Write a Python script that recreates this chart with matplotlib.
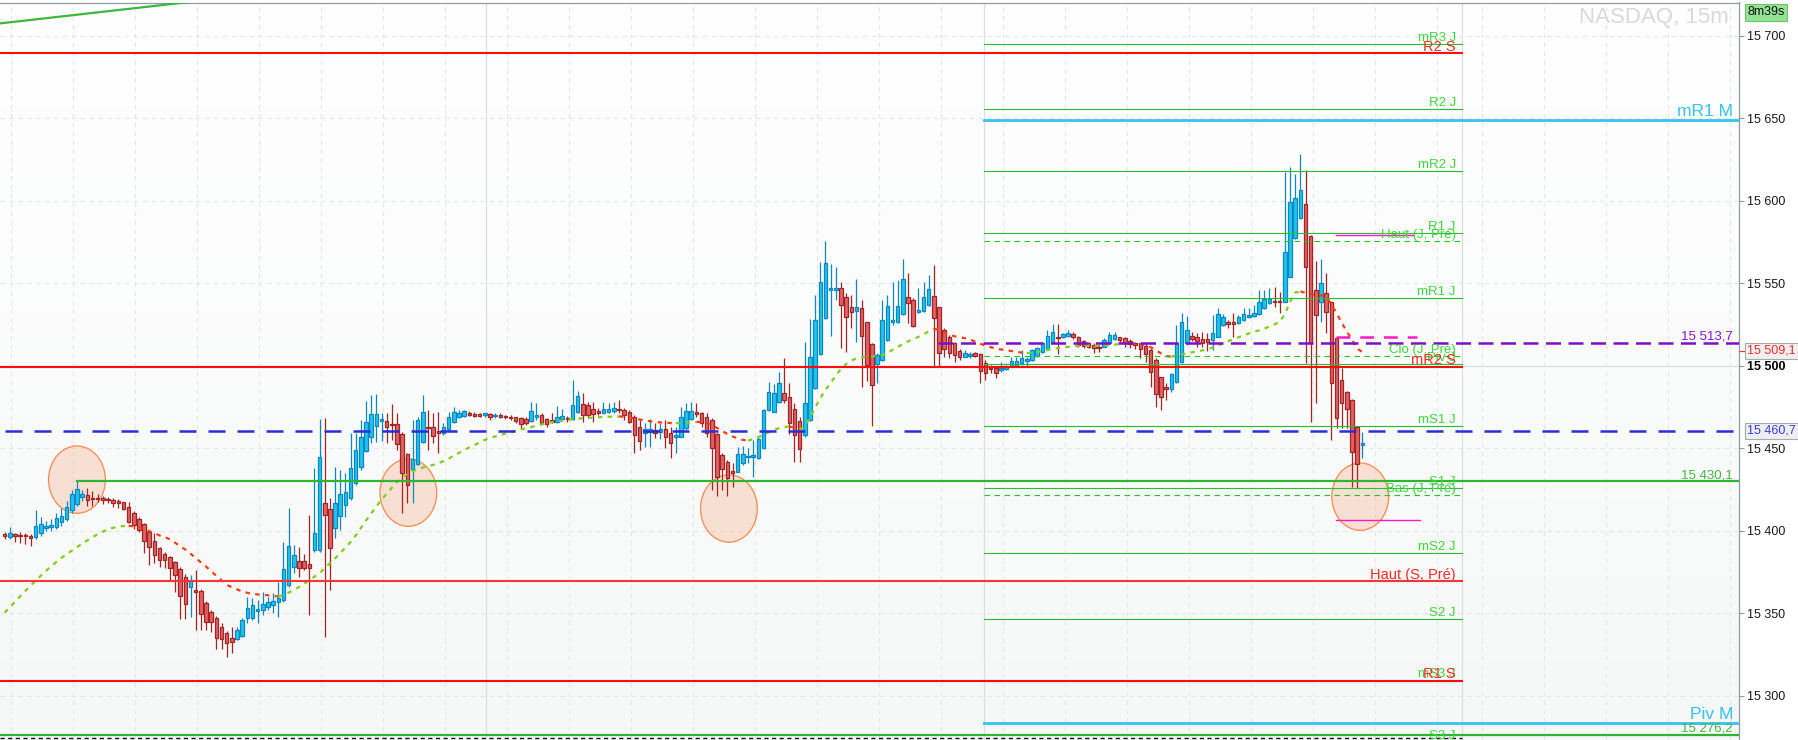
import numpy as np
import matplotlib.pyplot as plt
import matplotlib.transforms as mtrans
from matplotlib.patches import Ellipse
from matplotlib.ticker import FuncFormatter, FixedLocator

plt.rcParams['font.family'] = ['Liberation Sans', 'DejaVu Sans']

# =============================================================================
# DONNEES (bougies 15 min)
# =============================================================================

opens = [
    15398.0, 15396.6, 15398.0, 15397.6, 15397.6, 15397.2, 15396.2, 15399.0, 15401.6, 15402.2,
    15402.7, 15405.5, 15407.1, 15412.8, 15416.2, 15420.8, 15421.6, 15420.2, 15420.0, 15420.0,
    15419.6, 15418.8, 15418.2, 15417.4, 15414.8, 15410.7, 15407.1, 15404.0, 15399.2, 15394.2,
    15389.5, 15386.1, 15384.0, 15381.0, 15376.8, 15372.3, 15366.2, 15364.1, 15363.5, 15356.2,
    15350.7, 15347.1, 15341.6, 15338.0, 15335.4, 15334.4, 15336.6, 15347.1, 15347.1, 15351.5,
    15352.1, 15353.8, 15355.2, 15356.8, 15358.2, 15367.3, 15378.4, 15382.0, 15382.0, 15379.8,
    15388.5, 15388.5, 15416.8, 15413.2, 15401.6, 15409.3, 15415.8, 15419.8, 15428.9, 15438.6,
    15448.5, 15456.8, 15463.7, 15466.9, 15466.9, 15465.0, 15464.7, 15458.6, 15446.5, 15437.4,
    15440.6, 15453.8, 15463.3, 15463.3, 15460.6, 15459.2, 15461.6, 15466.3, 15468.9, 15469.9,
    15471.3, 15471.1, 15470.7, 15470.1, 15470.7, 15469.5, 15470.1, 15469.7, 15469.3, 15468.9,
    15468.3, 15468.1, 15466.5, 15469.3, 15470.1, 15468.0, 15467.5, 15466.3, 15467.7, 15468.5,
    15467.7, 15471.9, 15477.0, 15476.6, 15473.7, 15472.7, 15471.7, 15471.9, 15472.9, 15473.9,
    15473.5, 15471.9, 15469.3, 15463.2, 15459.2, 15460.0, 15461.2, 15460.2, 15461.6, 15459.6,
    15456.8, 15457.2, 15462.2, 15467.7, 15472.1, 15471.3, 15468.9, 15467.3, 15458.6, 15446.1,
    15441.6, 15436.6, 15435.9, 15441.0, 15444.6, 15444.6, 15444.0, 15450.1, 15473.3, 15472.3,
    15478.4, 15483.4, 15481.4, 15473.7, 15466.7, 15458.2, 15467.3, 15486.5, 15507.1, 15528.9,
    15546.1, 15546.1, 15547.1, 15541.6, 15535.5, 15533.5, 15534.9, 15526.4, 15513.1, 15501.0,
    15503.6, 15515.8, 15526.9, 15526.5, 15531.5, 15542.0, 15540.0, 15532.5, 15533.3, 15537.0,
    15542.4, 15535.5, 15521.8, 15517.8, 15513.7, 15509.1, 15505.7, 15506.1, 15507.7, 15507.3,
    15501.6, 15498.6, 15498.6, 15497.4, 15498.0, 15499.6, 15500.0, 15501.6, 15503.2, 15503.6,
    15506.3, 15508.7, 15510.1, 15514.3, 15517.8, 15517.8, 15518.2, 15519.4, 15517.8, 15515.3,
    15514.1, 15512.7, 15511.7, 15511.7, 15514.1, 15516.2, 15517.4, 15516.8, 15515.3, 15514.1,
    15513.7, 15512.1, 15509.7, 15503.6, 15493.1, 15487.1, 15486.3, 15490.5, 15502.2, 15513.7,
    15518.2, 15517.4, 15516.2, 15516.2, 15515.8, 15517.8, 15524.8, 15526.9, 15526.5, 15525.8,
    15527.9, 15529.5, 15530.3, 15531.5, 15534.9, 15538.0, 15539.6, 15539.2, 15539.0, 15554.1,
    15577.4, 15589.5, 15598.0, 15579.0, 15546.1, 15539.0, 15544.0, 15538.6, 15516.8, 15491.5,
    15484.4, 15479.4, 15463.2, 15452.1,
]

highs = [
    15399.5, 15402.2, 15399.0, 15399.6, 15399.0, 15398.0, 15412.8, 15408.7, 15406.0, 15407.0,
    15411.0, 15414.0, 15418.0, 15425.0, 15430.1, 15425.0, 15426.0, 15424.0, 15422.4, 15421.0,
    15420.5, 15420.2, 15419.2, 15417.8, 15417.4, 15412.0, 15408.7, 15405.0, 15400.0, 15398.6,
    15390.5, 15387.0, 15385.0, 15382.0, 15378.0, 15374.0, 15373.4, 15376.4, 15365.0, 15357.5,
    15352.0, 15348.5, 15344.0, 15339.5, 15342.0, 15342.0, 15347.0, 15360.2, 15359.2, 15358.2,
    15363.3, 15360.2, 15362.2, 15369.3, 15393.6, 15413.8, 15391.5, 15390.5, 15386.0, 15409.7,
    15438.0, 15467.9, 15468.7, 15419.8, 15439.0, 15437.0, 15435.0, 15459.2, 15459.2, 15467.3,
    15479.0, 15482.4, 15483.0, 15471.7, 15471.7, 15476.8, 15471.7, 15460.0, 15447.5, 15467.3,
    15469.3, 15482.4, 15473.4, 15471.3, 15471.9, 15465.3, 15471.9, 15475.3, 15473.3, 15473.3,
    15472.5, 15472.1, 15471.5, 15471.7, 15471.3, 15471.3, 15471.3, 15470.5, 15470.0, 15469.3,
    15468.9, 15469.3, 15478.4, 15477.4, 15471.3, 15468.5, 15471.3, 15475.7, 15473.9, 15469.7,
    15491.5, 15484.6, 15483.4, 15478.4, 15478.4, 15474.3, 15478.4, 15477.4, 15478.4, 15479.4,
    15474.3, 15473.3, 15470.3, 15467.3, 15465.7, 15468.1, 15465.7, 15465.3, 15467.3, 15463.2,
    15463.2, 15475.3, 15477.8, 15478.2, 15477.4, 15472.3, 15471.3, 15468.3, 15459.2, 15447.1,
    15443.0, 15441.0, 15451.1, 15451.5, 15450.1, 15455.1, 15456.7, 15473.7, 15490.5, 15488.9,
    15496.6, 15505.0, 15489.9, 15477.4, 15469.3, 15514.7, 15528.3, 15543.0, 15563.2, 15575.8,
    15561.6, 15560.2, 15551.1, 15544.0, 15543.0, 15552.7, 15540.0, 15526.9, 15513.7, 15507.7,
    15540.0, 15543.0, 15551.1, 15552.1, 15564.8, 15556.6, 15541.0, 15547.1, 15551.1, 15555.1,
    15561.2, 15536.0, 15522.8, 15518.8, 15514.7, 15510.1, 15509.5, 15508.5, 15508.3, 15507.7,
    15503.6, 15500.6, 15499.6, 15502.6, 15500.6, 15505.6, 15505.2, 15509.7, 15505.6, 15510.1,
    15511.7, 15514.1, 15521.8, 15525.4, 15525.4, 15520.2, 15521.8, 15520.8, 15518.2, 15515.7,
    15514.7, 15513.7, 15512.7, 15516.8, 15520.8, 15520.8, 15517.8, 15517.4, 15516.2, 15514.7,
    15514.1, 15513.7, 15510.7, 15504.6, 15493.5, 15489.5, 15496.0, 15524.8, 15531.9, 15530.5,
    15520.8, 15519.8, 15520.8, 15520.2, 15530.9, 15534.9, 15531.5, 15527.9, 15531.9, 15530.9,
    15534.9, 15535.0, 15537.0, 15546.1, 15546.1, 15547.1, 15548.1, 15545.1, 15617.8, 15620.8,
    15616.2, 15628.5, 15618.8, 15579.4, 15563.8, 15564.8, 15556.2, 15539.0, 15517.2, 15498.6,
    15485.0, 15479.8, 15463.6, 15460.2,
]

lows = [
    15395.0, 15395.0, 15393.6, 15392.5, 15392.0, 15391.0, 15395.0, 15397.0, 15400.0, 15400.0,
    15401.0, 15403.0, 15406.0, 15411.0, 15415.0, 15418.0, 15415.0, 15415.0, 15417.8, 15416.2,
    15416.8, 15414.8, 15413.8, 15412.8, 15404.7, 15401.0, 15399.6, 15386.5, 15379.4, 15380.4,
    15378.4, 15377.4, 15369.9, 15362.7, 15346.5, 15346.5, 15348.1, 15340.0, 15340.0, 15340.0,
    15339.0, 15328.3, 15328.3, 15323.5, 15326.3, 15334.0, 15336.0, 15344.0, 15346.0, 15344.0,
    15349.0, 15352.1, 15350.1, 15348.1, 15357.2, 15366.3, 15374.4, 15372.3, 15376.4, 15349.1,
    15387.5, 15387.5, 15336.0, 15364.3, 15395.6, 15400.6, 15408.7, 15418.8, 15427.9, 15437.0,
    15448.1, 15453.6, 15454.2, 15454.6, 15453.6, 15455.2, 15449.1, 15411.1, 15416.8, 15416.8,
    15439.9, 15453.2, 15449.1, 15453.2, 15447.1, 15458.2, 15460.5, 15465.3, 15468.3, 15469.3,
    15469.5, 15468.9, 15469.3, 15469.3, 15467.3, 15468.3, 15468.3, 15468.1, 15467.3, 15465.3,
    15461.6, 15464.2, 15466.1, 15467.3, 15465.3, 15463.2, 15465.7, 15465.7, 15467.3, 15466.3,
    15467.3, 15471.3, 15466.3, 15468.3, 15466.3, 15470.3, 15471.3, 15471.3, 15471.3, 15471.3,
    15467.3, 15465.3, 15447.5, 15449.1, 15451.1, 15451.1, 15456.1, 15455.5, 15450.1, 15444.4,
    15447.1, 15456.8, 15461.2, 15467.3, 15469.3, 15463.2, 15457.2, 15424.8, 15421.2, 15424.8,
    15421.2, 15426.8, 15435.7, 15440.0, 15441.0, 15432.9, 15443.6, 15449.5, 15472.9, 15471.9,
    15477.4, 15477.4, 15458.8, 15442.0, 15442.0, 15457.2, 15466.9, 15485.9, 15506.7, 15528.5,
    15518.2, 15540.0, 15510.7, 15508.7, 15522.8, 15514.7, 15487.5, 15490.9, 15463.6, 15489.5,
    15503.2, 15515.4, 15524.8, 15526.3, 15530.9, 15525.8, 15523.8, 15531.9, 15532.7, 15536.4,
    15499.6, 15499.6, 15505.7, 15504.6, 15502.6, 15503.6, 15505.7, 15504.6, 15505.2, 15489.9,
    15491.5, 15495.6, 15492.5, 15496.6, 15497.6, 15499.2, 15499.6, 15500.6, 15499.2, 15503.0,
    15505.7, 15507.7, 15509.7, 15513.7, 15507.3, 15517.2, 15517.4, 15516.2, 15511.7, 15510.7,
    15510.7, 15507.7, 15508.7, 15511.3, 15513.7, 15515.7, 15514.7, 15511.7, 15510.7, 15510.1,
    15504.6, 15502.6, 15487.1, 15475.3, 15473.3, 15479.4, 15484.4, 15489.9, 15501.6, 15512.7,
    15515.3, 15511.7, 15511.7, 15509.3, 15509.7, 15517.4, 15524.2, 15522.8, 15517.8, 15525.4,
    15527.3, 15528.9, 15529.9, 15530.9, 15534.4, 15537.6, 15535.9, 15531.9, 15538.6, 15553.7,
    15577.0, 15589.1, 15501.6, 15466.3, 15477.4, 15526.9, 15519.8, 15455.1, 15462.2, 15462.2,
    15462.2, 15426.9, 15426.3, 15444.1,
]

closes = [
    15397.0, 15398.6, 15397.0, 15396.8, 15396.8, 15395.6, 15403.0, 15404.0, 15402.9, 15403.5,
    15407.9, 15409.1, 15414.6, 15422.2, 15425.3, 15422.2, 15418.8, 15419.2, 15419.6, 15418.6,
    15418.8, 15416.8, 15417.2, 15413.2, 15405.7, 15403.7, 15400.6, 15394.2, 15390.5, 15385.5,
    15382.5, 15382.5, 15377.4, 15373.4, 15360.6, 15355.6, 15370.3, 15362.9, 15349.5, 15345.1,
    15344.7, 15335.4, 15334.4, 15331.9, 15333.0, 15340.0, 15346.1, 15353.2, 15355.0, 15352.7,
    15355.6, 15356.8, 15357.6, 15359.2, 15376.8, 15390.9, 15385.3, 15377.4, 15377.4, 15377.4,
    15398.6, 15445.1, 15409.7, 15389.5, 15416.8, 15422.2, 15423.5, 15438.0, 15449.1, 15457.2,
    15465.9, 15470.7, 15470.7, 15467.9, 15463.3, 15464.3, 15452.8, 15435.0, 15427.9, 15443.5,
    15467.1, 15471.9, 15462.2, 15457.6, 15459.2, 15463.3, 15469.3, 15471.9, 15471.3, 15472.7,
    15470.3, 15469.7, 15469.7, 15471.3, 15468.9, 15470.5, 15468.9, 15468.9, 15468.3, 15466.9,
    15464.8, 15465.7, 15472.5, 15470.5, 15465.7, 15464.6, 15466.3, 15469.3, 15469.7, 15467.7,
    15476.2, 15481.6, 15470.3, 15470.3, 15470.9, 15471.7, 15473.7, 15473.9, 15474.3, 15473.1,
    15470.1, 15466.3, 15458.0, 15454.7, 15462.0, 15461.6, 15459.6, 15461.8, 15457.2, 15453.5,
    15458.2, 15468.9, 15472.5, 15472.9, 15470.7, 15465.7, 15459.2, 15450.1, 15432.9, 15437.4,
    15431.9, 15435.4, 15446.7, 15446.7, 15445.6, 15445.8, 15455.9, 15473.3, 15484.0, 15483.4,
    15489.5, 15479.4, 15465.2, 15458.2, 15449.9, 15477.4, 15505.2, 15527.9, 15550.9, 15562.2,
    15547.5, 15547.1, 15536.8, 15529.5, 15532.5, 15535.5, 15518.2, 15500.6, 15488.3, 15506.7,
    15527.9, 15536.4, 15527.9, 15536.4, 15552.5, 15538.0, 15524.4, 15533.9, 15541.6, 15546.5,
    15528.9, 15507.7, 15510.1, 15507.7, 15506.7, 15505.7, 15507.7, 15507.3, 15506.3, 15497.0,
    15495.6, 15498.0, 15496.0, 15498.6, 15499.2, 15503.0, 15503.0, 15504.6, 15504.2, 15509.7,
    15510.9, 15513.7, 15518.4, 15520.8, 15517.2, 15519.4, 15519.8, 15517.4, 15512.7, 15512.1,
    15511.7, 15510.7, 15510.7, 15515.7, 15518.8, 15518.8, 15515.8, 15514.1, 15513.3, 15512.7,
    15510.1, 15507.3, 15496.6, 15482.8, 15481.4, 15485.9, 15495.1, 15513.7, 15526.5, 15521.8,
    15516.2, 15515.3, 15514.1, 15514.4, 15519.8, 15531.5, 15529.5, 15525.3, 15525.3, 15529.5,
    15531.5, 15530.9, 15532.3, 15539.0, 15540.6, 15540.4, 15539.0, 15539.0, 15569.3, 15599.6,
    15601.6, 15606.7, 15560.2, 15513.7, 15530.9, 15550.1, 15532.5, 15489.5, 15468.3, 15477.4,
    15473.7, 15448.1, 15440.6, 15453.1,
]

# moyenne mobile (vert = pente montante, rouge = descendante)
ma_vals = [
    15350.5, 15353.8, 15357.1, 15360.4, 15363.6, 15366.8, 15369.9, 15372.9, 15375.8, 15378.6,
    15381.2, 15383.7, 15385.9, 15388.1, 15390.2, 15392.3, 15394.3, 15396.2, 15398.0, 15399.6,
    15400.9, 15401.9, 15402.6, 15403.0, 15403.1, 15402.8, 15402.1, 15401.1, 15399.9, 15398.6,
    15397.3, 15396.3, 15394.9, 15392.9, 15390.7, 15388.7, 15386.2, 15383.6, 15381.0, 15378.4,
    15375.6, 15372.8, 15370.0, 15367.4, 15365.9, 15364.6, 15363.3, 15362.5, 15361.9, 15361.5,
    15361.3, 15361.0, 15360.6, 15360.3, 15361.2, 15362.6, 15364.2, 15366.0, 15368.0, 15370.1,
    15372.3, 15374.4, 15377.4, 15380.4, 15383.4, 15386.6, 15389.9, 15393.3, 15397.2, 15401.8,
    15406.4, 15410.6, 15414.8, 15419.0, 15422.6, 15426.2, 15429.6, 15432.4, 15434.4, 15436.2,
    15437.4, 15438.4, 15439.3, 15440.0, 15441.1, 15442.3, 15443.8, 15445.6, 15447.3, 15449.0,
    15450.6, 15452.1, 15453.6, 15455.2, 15456.3, 15457.3, 15458.2, 15459.1, 15459.9, 15460.8,
    15461.5, 15462.3, 15463.0, 15463.8, 15464.5, 15465.2, 15466.0, 15466.5, 15466.9, 15467.3,
    15467.7, 15468.0, 15468.3, 15468.5, 15468.7, 15468.9, 15469.1, 15469.2, 15469.3, 15469.4,
    15469.2, 15468.8, 15468.2, 15467.6, 15467.0, 15466.5, 15466.1, 15465.8, 15465.6, 15465.4,
    15465.3, 15465.4, 15465.7, 15466.0, 15466.1, 15466.0, 15465.6, 15464.2, 15462.5, 15460.6,
    15458.8, 15457.3, 15456.1, 15455.2, 15454.8, 15455.6, 15456.9, 15458.2, 15459.8, 15461.2,
    15462.3, 15463.0, 15463.3, 15462.6, 15461.5, 15463.5, 15468.6, 15474.7, 15480.6, 15485.5,
    15489.6, 15494.2, 15498.2, 15501.2, 15503.3, 15504.6, 15505.2, 15505.6, 15505.8, 15506.1,
    15506.6, 15508.0, 15509.8, 15511.6, 15513.3, 15514.9, 15516.4, 15517.6, 15519.2, 15521.0,
    15522.6, 15521.8, 15520.3, 15519.0, 15518.0, 15517.4, 15516.9, 15516.0, 15514.8, 15513.5,
    15512.3, 15511.4, 15510.6, 15510.0, 15509.5, 15509.1, 15508.6, 15508.1, 15507.8, 15508.0,
    15508.5, 15509.0, 15509.6, 15510.3, 15510.9, 15511.3, 15511.6, 15511.9, 15512.1, 15512.1,
    15512.1, 15512.1, 15512.2, 15512.4, 15512.6, 15512.9, 15513.2, 15513.5, 15513.7, 15513.5,
    15513.1, 15512.6, 15511.4, 15509.6, 15507.6, 15506.0, 15505.6, 15506.3, 15507.0, 15507.7,
    15508.3, 15508.9, 15509.4, 15510.1, 15511.2, 15512.4, 15513.7, 15515.0, 15516.2, 15517.4,
    15518.6, 15519.7, 15520.7, 15521.6, 15522.6, 15523.9, 15525.2, 15526.8, 15531.5, 15539.0,
    15544.5, 15545.2, 15544.3, 15543.6, 15543.1, 15542.8, 15542.0, 15537.5, 15532.0, 15526.3,
    15520.8, 15516.0, 15510.5, 15508.5,
]

# pivots journaliers (J)
niveaux_j = ["mR3 J", "R2 J", "mR2 J", "R1 J", "mR1 J", "Piv J",
             "mS1 J", "S1 J", "mS2 J", "S2 J", "mS3 J", "S3 J"]
valeurs_j = [15695.3, 15655.8, 15618.2, 15580.6, 15541.0, 15501.2,
             15463.6, 15425.9, 15386.7, 15346.7, 15309.3, 15272.2]

# veille (J, Pre)
niveaux_pre = ["Haut (J, Pré)", "Clo (J, Pré)", "Bas (J, Pré)"]
valeurs_pre = [15575.8, 15505.9, 15421.6]

# pivots hebdo (S)
niveaux_s = ["R2 S", "mR2 S", "Haut (S, Pré)", "R1 S"]
valeurs_s = [15689.5, 15499.4, 15369.5, 15309.3]

# pivots mensuels (M)
niveaux_m = ["mR1 M", "Piv M"]
valeurs_m = [15649.3, 15283.6]

# niveaux traces a la main
niv_violet = 15513.7
niv_bleu = 15460.7
niv_vert_haut = 15430.1
niv_vert_bas = 15276.2
niv_noir = 15274.5
magenta_vals = [15579.2, 15517.8, 15406.7]
dernier_prix = 15509.1

# zones entourees (centre bougie, prix)
cercles_x = [14.0, 78.2, 140.3, 262.6]
cercles_y = [15431.1, 15423.2, 15413.6, 15420.8]

trend_x = [-1.0, 40.0]
trend_y = [15707.6, 15722.1]

ticks_y = [15300, 15350, 15400, 15450, 15500, 15550, 15600, 15650, 15700]

# =============================================================================
# STYLE
# =============================================================================

UP_FILL, UP_EDGE = "#1ec6ef", "#0d86c2"
DN_FILL, DN_EDGE = "#e06262", "#a32424"
MA_UP, MA_DN = "#7fcf1c", "#ff3d12"
VERT_J, TXT_J = "#22c22e", "#3fd43f"
ROUGE, TXT_ROUGE = "#ff0d0d", "#ff2a2a"
CYAN_M = "#35c3f3"
GRIS_AXE = "#8d9ba6"

X_LEFT, X_RIGHT = -0.91, 335.97
X_SEP = [93.3, 189.7, 282.3]
X_J0, X_J1 = 189.7, 282.3
X_LAB_J = 281.1
X_LAB_R = 334.8


def fmt_prix(v):
    return f"{v:,.1f}".replace(",", " ").replace(".", ",")


W, H = 1798, 740
fig = plt.figure(figsize=(W / 100, H / 100), dpi=100)
ax = fig.add_axes([0, 0, 1739 / W, (H - 2.5) / H])
ax.set_xlim(X_LEFT, X_RIGHT)
ax.set_ylim(15273.3, 15720.3)

# fond degrade
grad = np.linspace(1.0, 0.0, 256).reshape(-1, 1)
fond = np.ones((256, 1, 3))
fond[:, 0, 0] = 0.965 + 0.035 * grad[:, 0]
fond[:, 0, 1] = 0.972 + 0.028 * grad[:, 0]
fond[:, 0, 2] = 0.972 + 0.028 * grad[:, 0]
ax.imshow(fond, extent=[0, 1, 0, 1], transform=ax.transAxes,
          aspect="auto", zorder=0, interpolation="bilinear")

# grille
for gx in list(np.arange(1.16, 282, 12.01)) + list(np.arange(286.2, 336, 12.0)):
    ax.axvline(gx, color="#e6e6e6", lw=0.8, dashes=(4, 4), zorder=1)
for gy in ticks_y:
    ax.axhline(gy, color="#e6e6e6", lw=0.8, dashes=(4, 4), zorder=1)
ax.axhline(15500, color="#dcdcdc", lw=0.8, zorder=1)
for sx in X_SEP:
    ax.axvline(sx, color="#dedede", lw=0.9, zorder=1)

# cercles
for cx, cy in zip(cercles_x, cercles_y):
    ax.add_patch(Ellipse((cx, cy), width=11.0, height=40.8,
                         facecolor=(0.96, 0.6, 0.4, 0.26),
                         edgecolor="#f5925c", lw=1.0, zorder=3))

# bougies
o, hi, lo, c = (np.array(a) for a in (opens, highs, lows, closes))
ma = np.array(ma_vals)
assert len(o) == len(hi) == len(lo) == len(c) == len(ma)
idx = np.arange(len(c))
up = c >= o
bas = np.minimum(o, c)
haut = np.maximum(np.abs(c - o), 0.6)

ax.vlines(idx[up], lo[up], hi[up], color=UP_EDGE, lw=0.9, zorder=4)
ax.vlines(idx[~up], lo[~up], hi[~up], color=DN_EDGE, lw=0.9, zorder=4)
ax.bar(idx[up], haut[up], bottom=bas[up], width=0.68, color=UP_FILL,
       edgecolor=UP_EDGE, linewidth=0.9, zorder=5)
ax.bar(idx[~up], haut[~up], bottom=bas[~up], width=0.68, color=DN_FILL,
       edgecolor=DN_EDGE, linewidth=0.9, zorder=5)

# moyenne mobile coloree selon la pente
pente = np.diff(ma) >= 0
debut = 0
for i in range(1, len(pente) + 1):
    if i == len(pente) or pente[i] != pente[debut]:
        sl = slice(debut, i + 1)
        ax.plot(idx[sl], ma[sl], color=MA_UP if pente[debut] else MA_DN,
                lw=1.6, dashes=(2.0, 2.4), zorder=6)
        debut = i

# ligne de tendance
ax.plot(trend_x, trend_y, color="#3cb83c", lw=1.6, zorder=7)


def label(x, y, txt, color, size, dy=2.3, ha="right"):
    ax.annotate(txt, xy=(x, y), xytext=(0, dy), textcoords="offset points",
                ha=ha, va="baseline", fontsize=size, color=color, zorder=10,
                annotation_clip=False, clip_on=True)


# niveaux J
for nom, v in zip(niveaux_j, valeurs_j):
    ax.plot([X_J0, X_J1], [v, v], color=VERT_J, lw=0.8, zorder=7)
    label(X_LAB_J, v, nom, TXT_J, 9.5)
for nom, v in zip(niveaux_pre, valeurs_pre):
    ax.plot([X_J0, X_J1], [v, v], color=VERT_J, lw=0.8, dashes=(5, 4), zorder=7)
    label(X_LAB_J, v, nom, TXT_J, 9.5)

# niveaux S
for nom, v in zip(niveaux_s, valeurs_s):
    ax.plot([X_LEFT, X_J1], [v, v], color=ROUGE if nom != "Haut (S, Pré)" else "#ff3535",
            lw=1.5, zorder=7)
    label(X_LAB_J, v, nom, TXT_ROUGE, 10.5, dy=1.9)

# niveaux M
for nom, v in zip(niveaux_m, valeurs_m):
    ax.plot([X_J0, X_RIGHT], [v, v], color=CYAN_M, lw=2.0, zorder=7)
    label(X_LAB_R, v, nom, CYAN_M, 12.5, dy=2.9)

# niveaux manuels
ax.plot([180.8, X_RIGHT], [niv_violet] * 2, color="#7d0fc4", lw=1.8,
        dashes=(6, 3), zorder=7)
label(X_LAB_R, niv_violet, fmt_prix(niv_violet), "#8a14c8", 9.5, dy=3.0)
ax.plot([0.06, X_RIGHT], [niv_bleu] * 2, color="#2c2cd8", lw=1.8,
        dashes=(6.8, 4.8), zorder=7)
ax.plot([14.0, X_RIGHT], [niv_vert_haut] * 2, color="#2fb52f", lw=1.6, zorder=7)
label(X_LAB_R, niv_vert_haut, fmt_prix(niv_vert_haut), "#45b545", 9.5)
ax.plot([X_LEFT, X_RIGHT], [niv_vert_bas] * 2, color="#2fb52f", lw=1.6, zorder=7)
label(X_LAB_R, niv_vert_bas, fmt_prix(niv_vert_bas), "#45b545", 9.5, dy=2.8)
ax.plot([X_LEFT, X_J1], [niv_noir] * 2, color="#111111", lw=1.0,
        dashes=(3, 2.5), zorder=7)

# magenta (seances en cours)
ax.plot([257.9, 272.8], [magenta_vals[0]] * 2, color="#ff19c8", lw=1.0, zorder=8)
ax.plot([257.9, 273.6], [magenta_vals[1]] * 2, color="#ff19c8", lw=1.8,
        dashes=(5.5, 4), zorder=8)
ax.plot([257.9, 274.2], [magenta_vals[2]] * 2, color="#ff19c8", lw=1.0, zorder=8)

# axe des prix
ax.yaxis.tick_right()
ax.yaxis.set_major_locator(FixedLocator(ticks_y))
ax.yaxis.set_major_formatter(FuncFormatter(lambda v, p: f"{int(v):,}".replace(",", " ")))
ax.tick_params(axis="y", length=3.5, width=0.8, color=GRIS_AXE, pad=2.5,
               labelsize=9, labelcolor="#1a1a1a")
ax.set_xticks([])
for t in ax.get_yticklabels():
    if t.get_text() == "15 500":
        t.set_fontweight("bold")
        t.set_color("#000000")
for s in ("left", "bottom"):
    ax.spines[s].set_visible(False)
for s in ("top", "right"):
    ax.spines[s].set_color(GRIS_AXE)
    ax.spines[s].set_linewidth(0.9)

blend = mtrans.blended_transform_factory(ax.transAxes, ax.transData)
ax.plot([1.0, 1.003], [dernier_prix] * 2, color="#ff3030", lw=0.9,
        transform=blend, clip_on=False)
ax.text(1.0046, dernier_prix, fmt_prix(dernier_prix), transform=blend,
        ha="left", va="center", fontsize=9, color="#ff2a2a", clip_on=False,
        bbox=dict(boxstyle="square,pad=0.18", fc="#f1f1f1", ec="#a8a8a8", lw=0.8))
ax.text(1.0046, niv_bleu, fmt_prix(niv_bleu), transform=blend,
        ha="left", va="center", fontsize=9, color="#3a3ae0", clip_on=False,
        bbox=dict(boxstyle="square,pad=0.18", fc="#eeeef6", ec="#a8a8a8", lw=0.8))

fig.text(1747 / W, 1 - 12 / H, "8m39s", ha="left", va="center", fontsize=9,
         color="#111111",
         bbox=dict(boxstyle="square,pad=0.2", fc="#94e394", ec="#6cc46c", lw=0.8))
fig.text(1729 / W, 1 - 18 / H, "NASDAQ, 15m", ha="right", va="center",
         fontsize=16, color="#d9d9d9")

fig.savefig("out.png", dpi=100)
